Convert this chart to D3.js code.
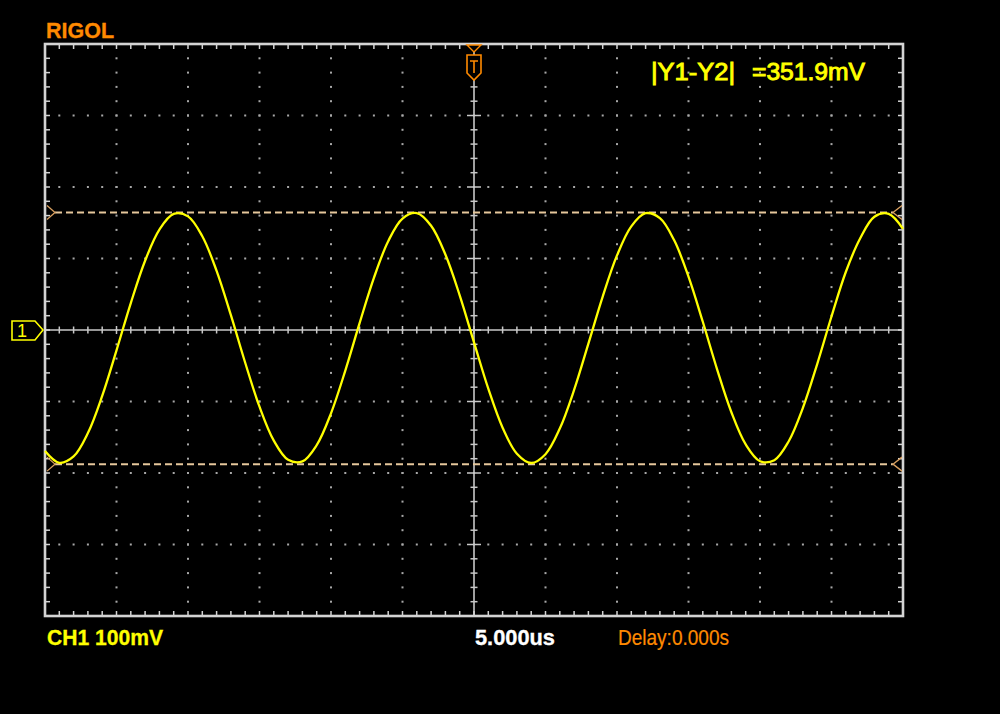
<!DOCTYPE html>
<html><head><meta charset="utf-8">
<script src="https://cdn.jsdelivr.net/npm/d3@7"></script>
<style>html,body{margin:0;padding:0;background:#000;}svg{display:block;}</style>
</head><body>
<script>
const timeStartUs = -30, timeStepUs = 1;          // 5 us/div, 12 divisions
const ch1mV = [-169.2,-185.7,-176.9,-144.2,-92.2,-28.5,37.7,96.9,140.5,162.3,
  158.9,131.1,82.7,20.7,-45.8,-107.3,-154.8,-181.6,-183.8,-161.0,
  -116.5,-56.8,9.6,72.9,124.2,155.9,163.5,145.9,105.6,48.5,
  -17.3,-82.1,-136.6,-173.0,-186.0,-173.7,-137.9,-83.8,-19.1,46.7,
  104.3,145.0,163.3,156.4,125.4,74.6,11.5,-55.0,-115.0,-160.0,
  -183.5,-182.1,-155.9,-108.9,-47.6,18.9,81.1,128.0,158.5,162.5,141.5];
const cursorsmV = [164.3, -187.6];       // Y1, Y2
const cursorDeltaLabel = "=351.9mV";
const labels = {brand:"RIGOL", cursorName:"|Y1-Y2|", ch:"CH1 100mV", time:"5.000us", delay:"Delay:0.000s"};
const hDivs = 12, vDivs = 8, minorPerDiv = 5;

// ---- drawing ----
const W = 1000, H = 714;
const svg = d3.select("body").append("svg").attr("width", W).attr("height", H);
svg.append("rect").attr("width", W).attr("height", H).attr("fill", "#000");

const x = d3.scaleLinear().domain([-30, 30]).range([45, 903]);
const y = d3.scaleLinear().domain([-400, 400]).range([616, 44]);
const tDiv = 5, vDiv = 100;
const g = svg.append("g");

// dotted grid
const dotCol = "#a8a8a8";
const minorT = d3.range(-30, 30.001, tDiv / minorPerDiv);
const minorV = d3.range(-400, 400.001, vDiv / minorPerDiv);
const majT = d3.range(-30 + tDiv, 30, tDiv).filter(d => Math.abs(d) > 1e-6);
const majV = d3.range(-400 + vDiv, 400, vDiv).filter(d => Math.abs(d) > 1e-6);
majT.forEach(t => {
  g.selectAll(null).data(minorV.slice(1, -1)).enter().append("rect")
    .attr("x", x(t) - 1).attr("y", d => y(d) - 1).attr("width", 2).attr("height", 2).attr("fill", dotCol);
});
majV.forEach(v => {
  g.selectAll(null).data(minorT.slice(1, -1)).enter().append("rect")
    .attr("x", d => x(d) - 1).attr("y", y(v) - 1).attr("width", 2).attr("height", 2).attr("fill", dotCol);
});

// centre cross lines with ticks
const lineCol = "#c8c8c8";
g.append("line").attr("x1", x(-30)).attr("x2", x(30)).attr("y1", y(0)).attr("y2", y(0))
  .attr("stroke", lineCol).attr("stroke-width", 1.6);
g.append("line").attr("x1", x(0)).attr("x2", x(0)).attr("y1", y(400)).attr("y2", y(-400))
  .attr("stroke", lineCol).attr("stroke-width", 1.6);
minorT.slice(1, -1).forEach(t => {
  const big = Math.abs(t / tDiv - Math.round(t / tDiv)) < 1e-6;
  const l = big ? 4 : 3.5;
  g.append("line").attr("x1", x(t)).attr("x2", x(t)).attr("y1", y(0) - l).attr("y2", y(0) + l)
    .attr("stroke", lineCol).attr("stroke-width", 1.5);
});
minorV.slice(1, -1).forEach(v => {
  const big = Math.abs(v / vDiv - Math.round(v / vDiv)) < 1e-6;
  const l = big ? 7 : 3.5;
  g.append("line").attr("x1", x(0) - l).attr("x2", x(0) + l).attr("y1", y(v)).attr("y2", y(v))
    .attr("stroke", lineCol).attr("stroke-width", 1.5);
});

// border with inward ticks
const bCol = "#d4d4d4";
g.append("rect").attr("x", x(-30)).attr("y", y(400)).attr("width", x(30) - x(-30)).attr("height", y(-400) - y(400))
  .attr("fill", "none").attr("stroke", bCol).attr("stroke-width", 2.6);
minorT.slice(1, -1).forEach(t => {
  g.append("line").attr("x1", x(t)).attr("x2", x(t)).attr("y1", y(400)).attr("y2", y(400) + 5).attr("stroke", bCol).attr("stroke-width", 1.5);
  g.append("line").attr("x1", x(t)).attr("x2", x(t)).attr("y1", y(-400)).attr("y2", y(-400) - 5).attr("stroke", bCol).attr("stroke-width", 1.5);
});
minorV.slice(1, -1).forEach(v => {
  g.append("line").attr("x1", x(-30)).attr("x2", x(-30) + 5).attr("y1", y(v)).attr("y2", y(v)).attr("stroke", bCol).attr("stroke-width", 1.5);
  g.append("line").attr("x1", x(30)).attr("x2", x(30) - 5).attr("y1", y(v)).attr("y2", y(v)).attr("stroke", bCol).attr("stroke-width", 1.5);
});

// cursors
const curCol = "#e6c79c", curMark = "#d9a060";
cursorsmV.forEach(v => {
  const yy = y(v);
  g.append("line").attr("x1", x(-30) + 10).attr("x2", x(30) - 10).attr("y1", yy).attr("y2", yy)
    .attr("stroke", curCol).attr("stroke-width", 2).attr("stroke-dasharray", "7,4");
  g.append("path").attr("d", `M${x(-30)+2},${yy-7}L${x(-30)+10},${yy}L${x(-30)+2},${yy+7}`)
    .attr("fill", "none").attr("stroke", curMark).attr("stroke-width", 1.3);
  g.append("path").attr("d", `M${x(30)-1},${yy-7}L${x(30)-10},${yy}L${x(30)-1},${yy+7}`)
    .attr("fill", "none").attr("stroke", curMark).attr("stroke-width", 1.3);
});

// trace
const pts = ch1mV.map((v, i) => [timeStartUs + i * timeStepUs, v]);
const line = d3.line().x(d => x(d[0])).y(d => y(d[1])).curve(d3.curveCatmullRom.alpha(0.5));
g.append("path").datum(pts).attr("d", line).attr("fill", "none")
  .attr("stroke", "#ffff00").attr("stroke-width", 2.3);

// trigger marker (top centre)
const orange = "#ff8a00";
const tx = x(0), ty = y(400);
g.append("path").attr("d", `M${tx-7},${ty+1}L${tx+7},${ty+1}L${tx},${ty+8}Z`).attr("fill", "#000").attr("stroke", orange).attr("stroke-width", 1.4);
g.append("path").attr("d", `M${tx-7},${ty+11}L${tx+7},${ty+11}L${tx+7},${ty+29}L${tx},${ty+36}L${tx-7},${ty+29}Z`)
  .attr("fill", "#000").attr("stroke", orange).attr("stroke-width", 1.6);
g.append("path").attr("d", `M${tx-4},${ty+17}L${tx+4},${ty+17}M${tx},${ty+17}L${tx},${ty+29}`)
  .attr("fill", "none").attr("stroke", orange).attr("stroke-width", 1.6);

// channel marker
const cy = y(0);
g.append("path").attr("d", `M12,${cy-9}L35,${cy-9}L43,${cy}L35,${cy+10}L12,${cy+10}Z`)
  .attr("fill", "#000").attr("stroke", "#ffff00").attr("stroke-width", 1.6);
g.append("text").attr("x", 22).attr("y", cy + 7).attr("text-anchor", "middle")
  .attr("font-family", "Liberation Sans, Arial, sans-serif").attr("font-size", 18).attr("fill", "#ffff00").text("1");

// texts
function txt(s, x0, yb, w, size, fill, weight, sw) {
  svg.append("text").attr("x", x0).attr("y", yb).attr("font-family", "Liberation Sans, Arial, sans-serif")
    .attr("font-size", size).attr("font-weight", weight).attr("fill", fill)
    .attr("stroke", sw ? fill : "none").attr("stroke-width", sw || 0)
    .attr("textLength", w).attr("lengthAdjust", "spacingAndGlyphs").text(s);
}
txt(labels.brand, 46, 37.5, 68, 22.5, orange, "bold", 0.3);
txt(labels.cursorName, 651, 80, 84, 23.5, "#ffff00", "normal", 0.9);
txt(cursorDeltaLabel, 752, 80, 113, 23.5, "#ffff00", "normal", 0.9);
txt(labels.ch, 47, 644.5, 116, 21.5, "#ffff00", "bold", 0.3);
txt(labels.time, 475, 644.5, 80, 21.5, "#ffffff", "bold", 0.3);
txt(labels.delay, 618, 644.5, 111, 21.5, orange, "normal", 0.2);
</script>
</body></html>
